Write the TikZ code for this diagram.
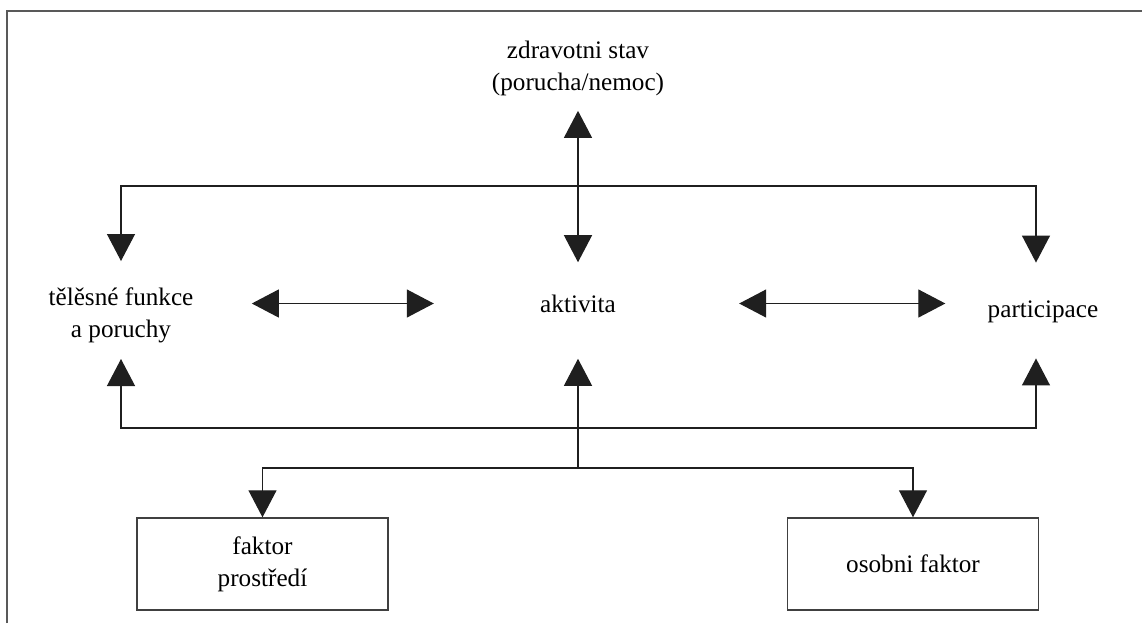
\documentclass[tikz,border=0pt]{standalone}
\usepackage{fontspec}
\setmainfont{Liberation Serif}
\usetikzlibrary{arrows.meta}

\begin{document}
\begin{tikzpicture}[x=0.5pt,y=-0.5pt,
  font=\rmfamily\fontsize{12.6}{16}\selectfont,
  plaintext/.style={inner sep=0pt,align=center},
  factorbox/.style={draw=black!75,line width=0.7pt,minimum width=125.5pt,minimum height=46pt,align=center},
  arr/.style={draw=black!88,line width=0.6pt,-{Triangle[length=13.5pt,width=14pt]}},
  arrboth/.style={draw=black!88,line width=0.6pt,{Triangle[length=13.5pt,width=14pt]}-{Triangle[length=13.5pt,width=14pt]}}]

\useasboundingbox (0,0) rectangle (1142,623);
\draw[black!65,line width=0.8pt] (7,623) -- (7,11) -- (1142,11);

\node[plaintext] (zdrav) at (578,68) {zdravotni stav\\(porucha/nemoc)};
\node[plaintext] (telo) at (121,315) {tělěsné funkce\\a poruchy};
\node[plaintext] (akt) at (578,303.5) {aktivita};
\node[plaintext] (part) at (1043,312) {participace};
\node[factorbox] (prost) at (262.5,564) {faktor\\prostředí};
\node[factorbox] (osob) at (913,564) {osobni faktor};

\coordinate (hub) at (578,186);
\coordinate (low) at (578,428);
\coordinate (branch) at (578,468);

\draw[arrboth,shorten <=7.5pt,shorten >=16pt] (zdrav.south) -- (akt.north);
\draw[arr,shorten >=13pt] (hub) -| (telo.north);
\draw[arr,shorten >=19pt] (hub) -| ([xshift=-3.5pt]part.north);
\draw[arrboth,shorten <=29pt,shorten >=53pt] (telo.east |- akt) -- (akt.west);
\draw[arrboth,shorten <=61.5pt,shorten >=21pt] (akt.east) -- (akt -| part.west);
\draw[arr,shorten >=8pt] (low) -| (telo.south);
\draw[arr,shorten >=17.5pt] (low) -| ([xshift=-3.5pt]part.south);
\draw[arr,shorten >=23pt] (branch) -- (akt.south);
\draw[arr] (branch) -| (prost.north);
\draw[arr] (branch) -| (osob.north);
\end{tikzpicture}
\end{document}
